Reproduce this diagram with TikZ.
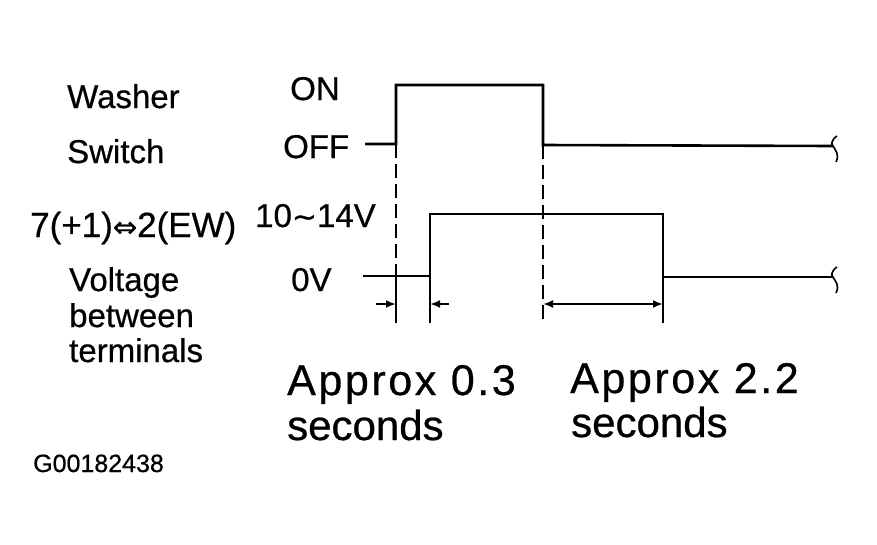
\documentclass[tikz,border=0pt]{standalone}
\usepackage{fontspec}
\setmainfont[FakeBold=0.6]{Liberation Sans}
\newfontfamily\symfont[FakeBold=0.6]{DejaVu Sans}
\newfontfamily\widefont[LetterSpace=6,FakeBold=0.6]{Liberation Sans}
\usetikzlibrary{arrows.meta,calc}

\tikzset{
    signal/.style={line width=2.6pt, line join=miter},
    guide/.style={line width=1.5pt, dash pattern=on 14pt off 6pt},
    tickline/.style={line width=1.5pt},
    dimarrow/.style={line width=2.2pt, -{Latex[length=10pt,width=8pt]}},
    lbl/.style={inner sep=0pt, anchor=base west, font=\fontsize{33}{36}\selectfont},
    biglbl/.style={inner sep=0pt, anchor=base west, font=\widefont\fontsize{43}{46}\selectfont},
    brk/.pic={\draw[line width=1.6pt] (4,-10) .. controls (-2,-6) and (-2,-1) .. (0,0) .. controls (2,4) and (7,8) .. (3,16);}
}

\begin{document}
\begin{tikzpicture}[x=1pt, y=-1pt]
    \useasboundingbox (0,0) rectangle (877,544);

    % Left hand labels
    \node[lbl] (washer) at (67,108) {Washer};
    \node[lbl] (switch) at (67,163) {Switch};
    \node[lbl, font=\fontsize{35}{38}\selectfont] (term) at (30,237) {7(+1){\symfont\fontsize{29}{30}\selectfont ⇔}2(EW)};
    \node[lbl] (volt) at (69,291) {Voltage};
    \node[lbl] (betw) at (69,327) {between};
    \node[lbl] (terms) at (69,362) {terminals};

    % Level labels
    \node[lbl] (on) at (290,100) {ON};
    \node[lbl] (off) at (283,158) {OFF};
    \node[lbl] (high) at (255,227) {10{\symfont\fontsize{30}{30}\selectfont ∼}14V};
    \node[lbl] (zero) at (291,291) {0V};

    % Washer switch signal
    \coordinate (sw0) at (365,144);
    \coordinate (sw1) at (396,144);
    \coordinate (sw2) at (396,85);
    \coordinate (sw3) at (543,85);
    \coordinate (sw4) at (543,145);
    \coordinate (sw5) at (833,146);
    \draw[signal] (sw0) -- (sw1) -- (sw2) -- (sw3) -- (sw4) -- (sw5);
    \pic at (sw5) {brk};

    % Terminal voltage signal
    \coordinate (v0) at (363,276);
    \coordinate (v1) at (430,276);
    \coordinate (v2) at (430,214);
    \coordinate (v3) at (663,214);
    \coordinate (v4) at (663,277);
    \coordinate (v5) at (833,277);
    \draw[signal] (v0) -- (v1) -- (v2) -- (v3) -- (v4) -- (v5);
    \pic at (v5) {brk};

    % Timing guides
    \draw[guide] (sw1) -- (396,276);
    \draw[tickline] (396,276) -- (396,323);
    \draw[tickline] (v1) -- (430,323);
    \draw[guide] (sw4) -- (543,323);
    \draw[tickline] (v4) -- (663,323);

    % Dimension arrows
    \draw[dimarrow] (376,304) -- (396,304);
    \draw[dimarrow] (449,304) -- (430,304);
    \draw[dimarrow, {Latex[length=10pt,width=8pt]}-{Latex[length=10pt,width=8pt]}] (543,304) -- (663,304);

    % Time labels
    \node[biglbl] (t1) at (287,395) {Approx 0.3};
    \node[lbl, font=\fontsize{42}{46}\selectfont] (t1s) at (287,440) {seconds};
    \node[biglbl] (t2) at (570,393) {Approx 2.2};
    \node[lbl, font=\fontsize{42}{46}\selectfont] (t2s) at (571,437) {seconds};

    % Figure code
    \node[lbl, font=\fontsize{25}{28}\selectfont] (code) at (33,472) {G00182438};
\end{tikzpicture}
\end{document}
